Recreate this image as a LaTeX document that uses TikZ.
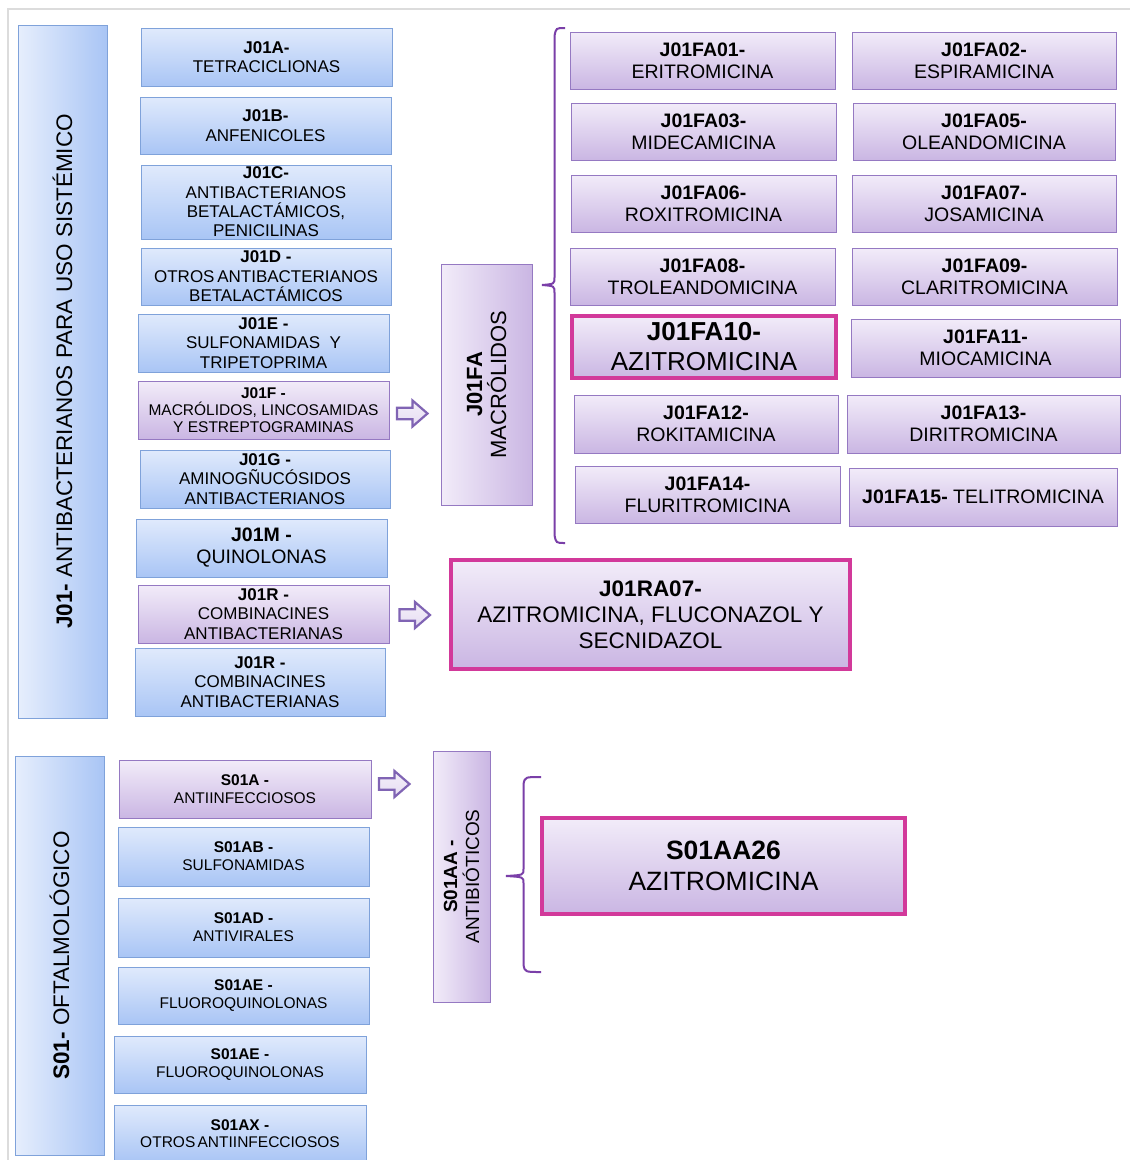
\documentclass[tikz,border=0pt]{standalone}
\usepackage{fontspec}
\setmainfont{Liberation Sans}
\usetikzlibrary{shadows}

\definecolor{blueTop}{HTML}{E0EAFC}
\definecolor{blueBot}{HTML}{A9C5F5}
\definecolor{blueLine}{HTML}{7FA2DA}
\definecolor{purTop}{HTML}{F2ECF9}
\definecolor{purBot}{HTML}{CAB6E3}
\definecolor{purLine}{HTML}{9579C2}
\definecolor{magLine}{HTML}{D2399A}
\definecolor{braceCol}{HTML}{7A3FA8}
\definecolor{arrowLine}{HTML}{8064B4}
\definecolor{arrowFill}{HTML}{EDE6F6}
\definecolor{frameCol}{HTML}{DCDCDC}

\tikzset{
  card/.style={rectangle, inner sep=0pt, align=center, text=black, line width=1pt,
    drop shadow={shadow xshift=1.3pt, shadow yshift=-1.3pt, opacity=0.28}},
  bluebox/.style={card, draw=blueLine, top color=blueTop, bottom color=blueBot},
  purplebox/.style={card, draw=purLine, top color=purTop, bottom color=purBot},
  hibox/.style={card, draw=magLine, line width=3.6pt, top color=purTop, bottom color=purBot},
  % tall boxes shaded from left to right
  tallblue/.style={card, draw=blueLine, left color=blueTop!80!white, right color=blueBot},
  tallpurple/.style={card, draw=purLine, left color=purTop, right color=purBot},
  sidetext/.style={rotate=90, inner sep=0pt, align=center, text=black},
  blockarrow/.style={draw=arrowLine, line width=2.2pt, line join=miter,
    top color=arrowFill!60!white, bottom color=arrowFill!80!purBot},
  bracepath/.style={draw=braceCol, line width=2pt},
  fs/.style={font=\fontsize{17}{19.4}\selectfont},
  fsf/.style={font=\fontsize{15.5}{17.3}\selectfont},
  fsm/.style={font=\fontsize{19.5}{22}\selectfont},
  fsr/.style={font=\fontsize{19.5}{22}\selectfont},
  fsh/.style={font=\fontsize{26}{30}\selectfont},
  fsc/.style={font=\fontsize{22.5}{26}\selectfont},
  fss/.style={font=\fontsize{15.5}{17.7}\selectfont},
}

% box given by its corners: style, x1, y1, x2, y2, name, text
\newcommand\cardat[7]{%
  \node[#1, minimum width={#4-#2}, minimum height={#5-#3}] (#6)
    at ({(#2+#4)/2},{(#3+#5)/2}) {#7};}

% hollow block arrow, tail at (#1,#2)
\newcommand\blockarr[2]{%
  \draw[blockarrow, shift={(#1,#2)}] (0,-5.8) -- (15.5,-5.8) -- (15.5,-13) -- (30.5,0)
    -- (15.5,13) -- (15.5,5.8) -- (0,5.8) -- cycle;}

\begin{document}
\begin{tikzpicture}[x=1pt, y=-1pt]
\useasboundingbox (0,0) rectangle (1130,1160);
\clip (0,0) rectangle (1130,1160);
\fill[white] (0,0) rectangle (1130,1160);

% page frame
\draw[frameCol, line width=1.2pt] (8,1160) -- (8,9) -- (1130,9);

% ---------- J01 ----------
\cardat{tallblue}{18}{25}{107}{718}{j01}{}
\node[sidetext, font=\fontsize{22.5}{26}\selectfont] (j01t) at (j01.center)
  {\textbf{J01-} ANTIBACTERIANOS PARA USO SISTÉMICO};

\cardat{bluebox,fs}{141}{28}{392}{86}{j01a}{\textbf{J01A-}\\TETRACICLIONAS}
\cardat{bluebox,fs}{140}{97}{391}{154}{j01b}{\textbf{J01B-}\\ANFENICOLES}
\cardat{bluebox,fs}{141}{165}{391}{239}{j01c}{\textbf{J01C-}\\ANTIBACTERIANOS\\BETALACTÁMICOS,\\PENICILINAS}
\cardat{bluebox,fs}{141}{248}{391}{305}{j01d}{\textbf{J01D -}\\OTROS\hspace{-2pt} ANTIBACTERIANOS\\BETALACTÁMICOS}
\cardat{bluebox,fs}{138}{314}{389}{372}{j01e}{\textbf{J01E -}\\SULFONAMIDAS\ \ Y\\TRIPETOPRIMA}
\cardat{purplebox,fsf}{138}{381}{389}{439}{j01f}{\textbf{J01F -}\\MACRÓLIDOS, LINCOSAMIDAS\\Y ESTREPTOGRAMINAS}
\cardat{bluebox,fs}{140}{450}{390}{508}{j01g}{\textbf{J01G -}\\AMINOGÑUCÓSIDOS\\ANTIBACTERIANOS}
\cardat{bluebox,fsm}{136}{519}{387}{577}{j01m}{\textbf{J01M -}\\QUINOLONAS}
\cardat{purplebox,fs}{138}{585}{389}{643}{j01ra}{\textbf{J01R -}\\COMBINACINES\\ANTIBACTERIANAS}
\cardat{bluebox,fs}{135}{648}{385}{716}{j01rb}{\textbf{J01R -}\\COMBINACINES\\ANTIBACTERIANAS}

\blockarr{397}{413.5}
\blockarr{399.5}{615}

\cardat{tallpurple}{441}{264}{532}{505}{j01fa}{}
\node[sidetext, font=\fontsize{22}{24}\selectfont] (j01fat) at (j01fa.center)
  {\textbf{J01FA}\\MACRÓLIDOS};

% brace grouping the macrolides
\draw[bracepath] (565,28) .. controls (556,28) .. (554.5,36) -- (554.5,277)
  .. controls (554.5,284) .. (542,285) .. controls (554.5,286) .. (554.5,293)
  -- (554.5,535) .. controls (556,543) .. (565,543);

\cardat{purplebox,fsr}{570}{32}{835}{89}{fa01}{\textbf{J01FA01-}\\ERITROMICINA}
\cardat{purplebox,fsr}{852}{32}{1116}{89}{fa02}{\textbf{J01FA02-}\\ESPIRAMICINA}
\cardat{purplebox,fsr}{571}{103}{836}{160}{fa03}{\textbf{J01FA03-}\\MIDECAMICINA}
\cardat{purplebox,fsr}{853}{103}{1115}{160}{fa05}{\textbf{J01FA05-}\\OLEANDOMICINA}
\cardat{purplebox,fsr}{571}{175}{836}{232}{fa06}{\textbf{J01FA06-}\\ROXITROMICINA}
\cardat{purplebox,fsr}{852}{175}{1116}{232}{fa07}{\textbf{J01FA07-}\\JOSAMICINA}
\cardat{purplebox,fsr}{570}{248}{835}{305}{fa08}{\textbf{J01FA08-}\\TROLEANDOMICINA}
\cardat{purplebox,fsr}{852}{248}{1117}{305}{fa09}{\textbf{J01FA09-}\\CLARITROMICINA}
\cardat{hibox,fsh}{572}{316}{836}{378}{fa10}{\textbf{J01FA10-}\\AZITROMICINA}
\cardat{purplebox,fsr}{851}{319}{1120}{377}{fa11}{\textbf{J01FA11-}\\MIOCAMICINA}
\cardat{purplebox,fsr}{574}{395}{838}{453}{fa12}{\textbf{J01FA12-}\\ROKITAMICINA}
\cardat{purplebox,fsr}{847}{395}{1120}{453}{fa13}{\textbf{J01FA13-}\\DIRITROMICINA}
\cardat{purplebox,fsr}{575}{466}{840}{523}{fa14}{\textbf{J01FA14-}\\FLURITROMICINA}
\cardat{purplebox,fsr}{849}{468}{1117}{526}{fa15}{\textbf{J01FA15-} TELITROMICINA}

\cardat{hibox,fsc}{451}{560}{850}{669}{ra07}{\textbf{J01RA07-}\\AZITROMICINA, FLUCONAZOL Y\\SECNIDAZOL}

% ---------- S01 ----------
\cardat{tallblue}{15}{756}{104}{1155}{s01}{}
\node[sidetext, font=\fontsize{22.5}{26}\selectfont] (s01t) at (s01.center)
  {\textbf{S01-} OFTALMOLÓGICO};

\cardat{purplebox,fss}{119}{760}{371}{818}{s01a}{\textbf{S01A -}\\ANTIINFECCIOSOS}
\cardat{bluebox,fss}{118}{827}{369}{886}{s01ab}{\textbf{S01AB -}\\SULFONAMIDAS}
\cardat{bluebox,fss}{118}{898}{369}{957}{s01ad}{\textbf{S01AD -}\\ANTIVIRALES}
\cardat{bluebox,fss}{118}{967}{369}{1024}{s01ae}{\textbf{S01AE -}\\FLUOROQUINOLONAS}
\cardat{bluebox,fss}{114}{1036}{366}{1093}{s01aeb}{\textbf{S01AE -}\\FLUOROQUINOLONAS}
\cardat{bluebox,fss}{114}{1105}{366}{1162}{s01ax}{\textbf{S01AX -}\\OTROS\hspace{-2pt} ANTIINFECCIOSOS}

\blockarr{379}{784}

\cardat{tallpurple}{433}{751}{490}{1002}{s01aa}{}
\node[sidetext, font=\fontsize{19}{22}\selectfont] (s01aat) at (s01aa.center)
  {\textbf{S01AA -}\\ANTIBIÓTICOS};

% brace grouping the ophthalmic antibiotics
\draw[bracepath] (541,777) .. controls (525,777) .. (523.5,784) -- (523.5,869)
  .. controls (523.5,875) .. (506,876) .. controls (523.5,877) .. (523.5,883)
  -- (523.5,965) .. controls (525,972) .. (541,972);

\cardat{hibox,font=\fontsize{26.5}{31}\selectfont}{542}{818}{905}{914}{s01aa26}{\textbf{S01AA26}\\AZITROMICINA}

\end{tikzpicture}
\end{document}
